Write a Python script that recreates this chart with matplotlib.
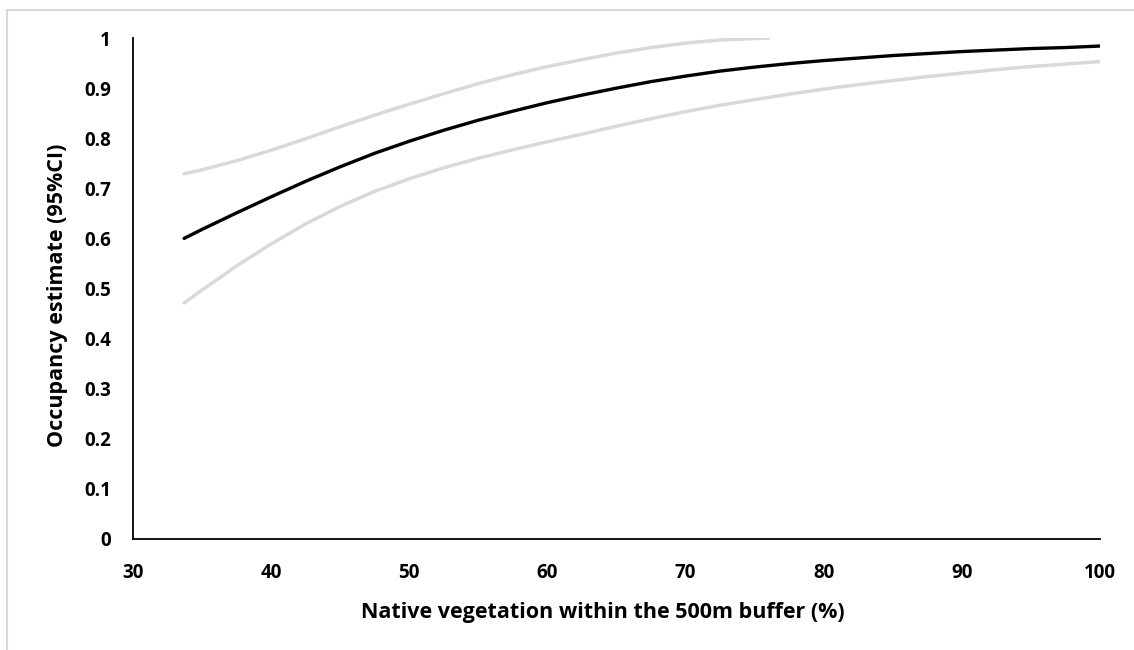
import matplotlib.pyplot as plt
from matplotlib.patches import Rectangle

# Native vegetation (%) and occupancy estimate with 95% CI bounds
veg = [33.7, 35, 37.5, 40, 42.5, 45, 47.5, 50, 52.5, 55, 57.5, 60, 62.5, 65,
       67.5, 70, 72.5, 75, 77.5, 80, 82.5, 85, 87.5, 90, 92.5, 95, 97.5, 100]
estimate = [0.600, 0.618, 0.651, 0.683, 0.714, 0.743, 0.770, 0.794, 0.816, 0.836,
            0.854, 0.871, 0.886, 0.900, 0.913, 0.924, 0.934, 0.942, 0.949, 0.955,
            0.960, 0.965, 0.969, 0.973, 0.976, 0.979, 0.981, 0.984]
lower = [0.471, 0.497, 0.545, 0.589, 0.629, 0.664, 0.694, 0.719, 0.741, 0.760,
         0.777, 0.793, 0.808, 0.824, 0.839, 0.853, 0.866, 0.877, 0.888, 0.898,
         0.907, 0.915, 0.923, 0.930, 0.937, 0.943, 0.948, 0.953]

veg_upper = [33.7, 35, 37.5, 40, 42.5, 45, 47.5, 50, 52.5, 55, 57.5, 60, 62.5,
             65, 67.5, 70, 72.5, 75, 76]
upper = [0.729, 0.737, 0.755, 0.776, 0.799, 0.823, 0.846, 0.868, 0.889, 0.909,
         0.927, 0.943, 0.957, 0.970, 0.981, 0.990, 0.996, 0.999, 1.0]

x_ticks = [30, 40, 50, 60, 70, 80, 90, 100]
y_ticks = [0, 0.1, 0.2, 0.3, 0.4, 0.5, 0.6, 0.7, 0.8, 0.9, 1]
y_labels = ["0", "0.1", "0.2", "0.3", "0.4", "0.5", "0.6", "0.7", "0.8", "0.9", "1"]

plt.rcParams['font.family'] = ['Open Sans', 'DejaVu Sans']
plt.rcParams['font.weight'] = 'bold'

fig = plt.figure(figsize=(11.34, 6.5), dpi=100)
ax = fig.add_axes([0.1173, 0.1708, 0.8527, 0.7707])

# light grey chart-area border (cropped on the right and bottom)
fig.patches.append(Rectangle((7 / 1134, -0.05), 1.1, 1 - 10 / 650 + 0.05,
                             transform=fig.transFigure, fill=False,
                             edgecolor="#d9d9d9", linewidth=1.5))

ax.plot(veg, lower, color="#d9d9d9", linewidth=2.5, solid_capstyle="round")
ax.plot(veg_upper, upper, color="#d9d9d9", linewidth=2.5, solid_capstyle="round")
ax.plot(veg, estimate, color="black", linewidth=2.4, solid_capstyle="round")

ax.set_xlim(30, 100)
ax.set_ylim(0, 1)
ax.set_xticks(x_ticks)
ax.set_yticks(y_ticks)
ax.set_yticklabels(y_labels)
ax.tick_params(length=0, labelsize=13.5)
ax.tick_params(axis="y", pad=16)
ax.tick_params(axis="x", pad=17)
for lbl in ax.get_xticklabels() + ax.get_yticklabels():
    lbl.set_fontweight("bold")

for side in ["top", "right"]:
    ax.spines[side].set_visible(False)
for side in ["left", "bottom"]:
    ax.spines[side].set_linewidth(1.3)
    ax.spines[side].set_color("black")

ax.set_xlabel("Native vegetation within the 500m buffer (%)", fontsize=15.5, fontweight="bold")
ax.set_ylabel("Occupancy estimate (95%CI)", fontsize=15.5, fontweight="bold")
ax.xaxis.set_label_coords(0.486, -0.146)
ax.yaxis.set_label_coords(-0.0776, 0.487)
ax.xaxis.label.set_va("center")
ax.yaxis.label.set_va("center")

fig.savefig("out.png", dpi=100)
